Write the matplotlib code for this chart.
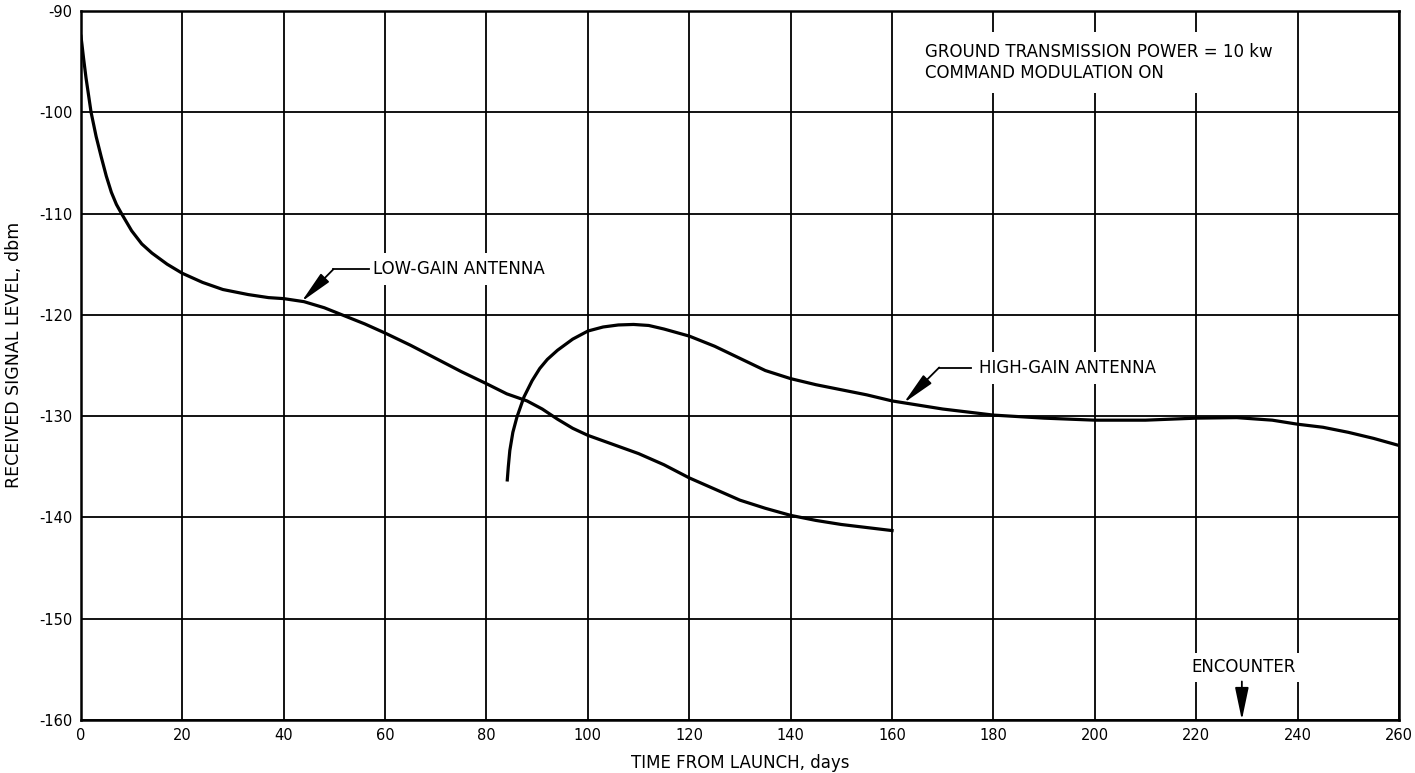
""" plot.py """

import matplotlib
matplotlib.use("Agg")
import matplotlib.pyplot as plt

plt.rcParams['font.family'] = ['DejaVu Sans']
plt.rcParams['axes.unicode_minus'] = False

# low-gain antenna
low_days = [0, 0.2, 0.5, 1, 2, 3, 4, 5, 6, 7, 8, 10, 12, 14, 17, 20, 24, 28, 33, 37, 40,
            44, 48, 52, 56, 60, 65, 70, 75, 80, 84, 88, 91, 94, 97, 100, 105, 110,
            115, 120, 125, 130, 135, 140, 145, 150, 155, 160]
low_dbm = [-92.5, -93.3, -94.6, -96.6, -100.0, -102.4, -104.4, -106.3, -107.9, -109.1, -110.0,
           -111.7, -113.0, -113.9, -115.0, -115.9, -116.8, -117.5, -118.0, -118.3, -118.4,
           -118.7, -119.3, -120.1, -120.9, -121.8, -123.0, -124.3, -125.6, -126.8, -127.8,
           -128.5, -129.3, -130.3, -131.2, -131.9, -132.8, -133.7, -134.8, -136.1, -137.2,
           -138.3, -139.1, -139.8, -140.3, -140.7, -141.0, -141.3]

# high-gain antenna
high_days = [84.1, 84.3, 84.6, 85.2, 86, 87.4, 89, 90.5, 92, 94, 97, 100, 103, 106, 109,
             112, 115, 120, 125, 130, 135, 140, 145, 150, 155, 160, 165, 170, 175, 180,
             190, 200, 210, 220, 228, 235, 240, 245, 250, 255, 260]
high_dbm = [-136.3, -135.0, -133.4, -131.6, -130.1, -128.1, -126.5, -125.3, -124.4, -123.5,
            -122.4, -121.6, -121.2, -121.0, -120.95, -121.05, -121.4, -122.1, -123.1, -124.3,
            -125.5, -126.3, -126.9, -127.4, -127.9, -128.5, -128.9, -129.3, -129.6, -129.9,
            -130.2, -130.4, -130.4, -130.2, -130.15, -130.4, -130.8, -131.1, -131.6, -132.2,
            -132.9]

x_ticks = list(range(0, 261, 20))
y_ticks = list(range(-160, -89, 10))
encounter_day = 229

fig = plt.figure(figsize=(14.15, 7.73), dpi=100)
ax = fig.add_axes([0.0572, 0.0686, 0.9315, 0.9172])

ax.set_xlim(0, 260)
ax.set_ylim(-160, -90)
ax.set_xticks(x_ticks)
ax.set_yticks(y_ticks)
ax.tick_params(length=0, labelsize=10.5, pad=6)
ax.grid(True, color='black', linewidth=1.3)
ax.set_axisbelow(True)
for s in ax.spines.values():
  s.set_linewidth(1.8)

ax.plot(low_days, low_dbm, color='black', linewidth=2.3, zorder=3)
ax.plot(high_days, high_dbm, color='black', linewidth=2.3, zorder=3)

ax.set_xlabel('TIME FROM LAUNCH, days', fontsize=12, labelpad=8)
ax.set_ylabel('RECEIVED SIGNAL LEVEL, dbm', fontsize=12.5, labelpad=8)
ax.yaxis.set_label_coords(-0.044, 0.515)

box = dict(facecolor='white', edgecolor='none', pad=5)
arrow = dict(arrowstyle='-|>,head_width=0.36,head_length=2.0', color='black', linewidth=1.3,
             shrinkA=0, shrinkB=0, mutation_scale=10)

# low-gain label and leader
ax.text(57.6, -115.5, 'LOW-GAIN ANTENNA', fontsize=12, va='center', ha='left', bbox=box, zorder=4)
ax.plot([49.8, 56.8], [-115.5, -115.5], color='black', linewidth=1.3, zorder=4)
ax.annotate('', xy=(43.5, -118.7), xytext=(49.8, -115.5), arrowprops=arrow, zorder=4)

# high-gain label and leader
ax.text(177.1, -125.2, 'HIGH-GAIN ANTENNA', fontsize=12, va='center', ha='left', bbox=box, zorder=4)
ax.plot([169.3, 175.5], [-125.2, -125.2], color='black', linewidth=1.3, zorder=4)
ax.annotate('', xy=(162.3, -128.7), xytext=(169.3, -125.2), arrowprops=arrow, zorder=4)

# conditions note
ax.text(166.5, -95.1, 'GROUND TRANSMISSION POWER = 10 kw\nCOMMAND MODULATION ON',
        fontsize=12, va='center', ha='left', linespacing=1.2,
        bbox=dict(facecolor='white', edgecolor='none', pad=8), zorder=4)

# encounter marker
ax.text(encounter_day + 0.4, -154.8, 'ENCOUNTER', fontsize=12, va='center', ha='center',
        bbox=dict(facecolor='white', edgecolor='none', pad=4), zorder=4)
ax.annotate('', xy=(encounter_day, -160), xytext=(encounter_day, -156.2),
            arrowprops=dict(arrowstyle='-|>,head_width=0.42,head_length=2.0', color='black',
                            linewidth=1.3, shrinkA=0, shrinkB=0, mutation_scale=10), zorder=5)

fig.savefig('out.png', dpi=100)
